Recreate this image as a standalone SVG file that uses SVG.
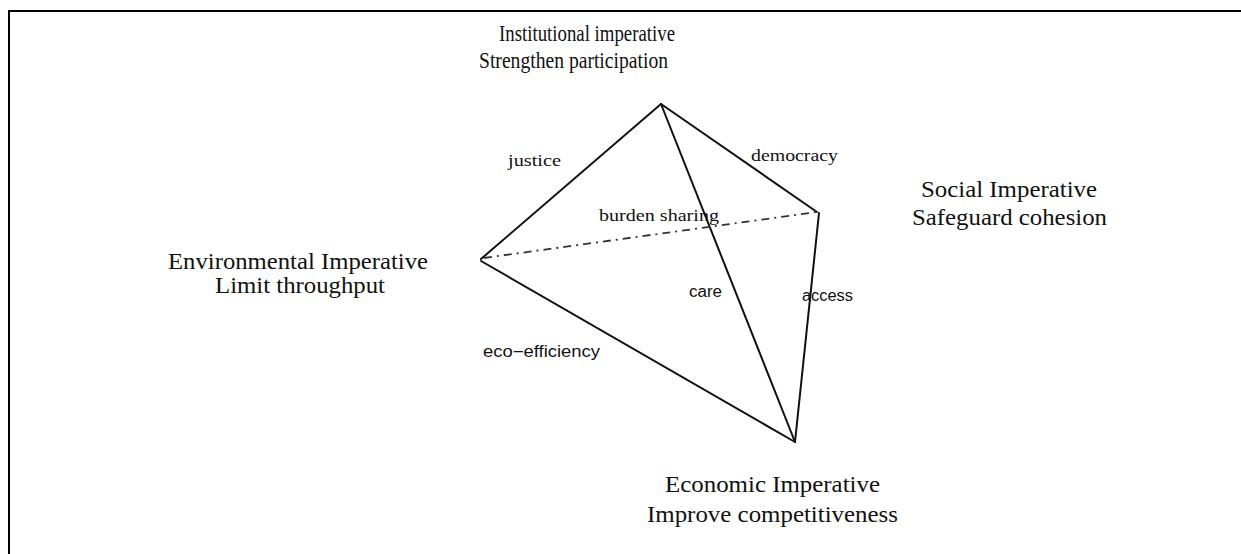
<svg xmlns="http://www.w3.org/2000/svg" width="1241" height="554" viewBox="0 0 1241 554">
  <style>
    .big { font-family: "Liberation Serif", "Times New Roman", serif; font-size: 23px; fill: #111; }
    .lbl { font-family: "Liberation Serif", "Times New Roman", serif; font-size: 17px; fill: #111; }
    .sans { font-family: "Liberation Sans", Arial, sans-serif; font-size: 16px; fill: #111; }
    .edge { stroke: #111; stroke-width: 2; fill: none; stroke-linecap: round; }
    .hidden { stroke: #333; stroke-width: 1.8; fill: none; stroke-dasharray: 8 5 2 5; }
  </style>
  <rect x="0" y="0" width="1241" height="554" fill="#fff"/>
  <rect id="frame" x="9" y="11" width="1300" height="620" fill="none" stroke="#000" stroke-width="2"/>

  <g id="connectors">
    <line class="edge" x1="661" y1="104" x2="481" y2="259"/>
    <line class="edge" x1="661" y1="104" x2="817" y2="212"/>
    <line class="edge" x1="661" y1="104" x2="795" y2="442"/>
    <line class="edge" x1="481" y1="261" x2="795" y2="442"/>
    <line class="edge" x1="819" y1="213" x2="795" y2="442"/>
    <line class="hidden" x1="484" y1="258" x2="817" y2="212"/>
    <text class="lbl" x="508" y="166" textLength="53" lengthAdjust="spacingAndGlyphs">justice</text>
    <text class="lbl" x="751" y="161" textLength="87" lengthAdjust="spacingAndGlyphs">democracy</text>
    <text class="lbl" x="599" y="221" textLength="120" lengthAdjust="spacingAndGlyphs">burden sharing</text>
    <text class="sans" x="689" y="297" textLength="33" lengthAdjust="spacingAndGlyphs">care</text>
    <text class="sans" x="802" y="301" textLength="51" lengthAdjust="spacingAndGlyphs">access</text>
    <text class="sans" x="483" y="357" textLength="117" lengthAdjust="spacingAndGlyphs">eco−efficiency</text>
  </g>

  <g id="institutional">
    <text class="big" x="499" y="41" textLength="176" lengthAdjust="spacingAndGlyphs">Institutional imperative</text>
    <text class="big" x="479" y="68" textLength="189" lengthAdjust="spacingAndGlyphs">Strengthen participation</text>
  </g>
  <g id="social">
    <text class="big" x="921" y="197" textLength="176" lengthAdjust="spacingAndGlyphs">Social Imperative</text>
    <text class="big" x="912" y="225" textLength="195" lengthAdjust="spacingAndGlyphs">Safeguard cohesion</text>
  </g>
  <g id="environmental">
    <text class="big" x="168" y="269" textLength="260" lengthAdjust="spacingAndGlyphs">Environmental Imperative</text>
    <text class="big" x="215" y="293" textLength="170" lengthAdjust="spacingAndGlyphs">Limit throughput</text>
  </g>
  <g id="economic">
    <text class="big" x="665" y="492" textLength="215" lengthAdjust="spacingAndGlyphs">Economic Imperative</text>
    <text class="big" x="647" y="522" textLength="251" lengthAdjust="spacingAndGlyphs">Improve competitiveness</text>
  </g>
</svg>
